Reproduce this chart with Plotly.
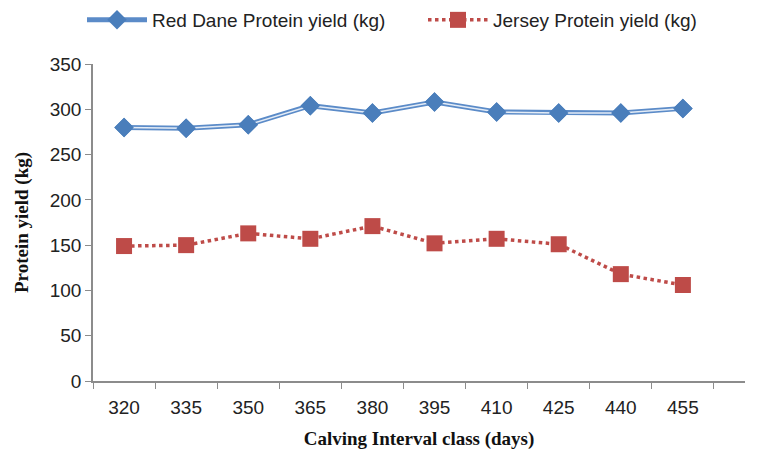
import plotly.graph_objects as go

categories = ["320", "335", "350", "365", "380", "395", "410", "425", "440", "455"]
red_dane = [280, 279, 283, 304, 296, 308, 297, 296, 296, 301]
jersey = [149, 150, 163, 157, 171, 152, 157, 151, 118, 106]
y_ticks = [0, 50, 100, 150, 200, 250, 300, 350]

fig = go.Figure()
# Red Dane: double line (blue outer, light inner) with diamond markers
fig.add_trace(go.Scatter(
    x=categories, y=red_dane, mode="lines+markers",
    name="Red Dane Protein yield (kg)", legend="legend",
    line=dict(color="#5B8BC8", width=5),
    marker=dict(symbol="diamond", size=15, color="#4A7EBB"),
))
fig.add_trace(go.Scatter(
    x=categories, y=red_dane, mode="lines",
    showlegend=False, hoverinfo="skip",
    line=dict(color="#E4ECF6", width=1.5),
))
fig.add_trace(go.Scatter(
    x=categories, y=red_dane, mode="markers",
    showlegend=False, hoverinfo="skip",
    marker=dict(symbol="diamond", size=15, color="#4A7EBB"),
))
fig.add_trace(go.Scatter(
    x=categories, y=jersey, mode="lines+markers",
    name="Jersey Protein yield (kg)", legend="legend2",
    line=dict(color="#BE4B48", width=3.5, dash="dot"),
    marker=dict(symbol="square", size=16, color="#BE4B48"),
))

axis_color = "#8C8C8C"
legend_font = dict(family="Liberation Sans", size=19, color="#222222")
fig.update_layout(
    width=758, height=451,
    margin=dict(l=93, r=13, t=64, b=70),
    paper_bgcolor="white", plot_bgcolor="white",
    font=dict(family="Liberation Sans", size=19, color="#222222"),
    legend=dict(
        orientation="h", xref="container", yref="container",
        x=82 / 758, xanchor="left", y=1 - 1 / 451, yanchor="top",
        font=legend_font, itemwidth=60,
    ),
    legend2=dict(
        orientation="h", xref="container", yref="container",
        x=423 / 758, xanchor="left", y=1 - 1 / 451, yanchor="top",
        font=legend_font, itemwidth=60,
    ),
    xaxis=dict(
        type="category", categoryorder="array", categoryarray=categories,
        range=[-0.5, 10.0], showgrid=False, showline=True, automargin=False,
        linecolor=axis_color, linewidth=1.5,
        ticks="outside", tickson="boundaries", ticklen=6, tickcolor=axis_color,
        tickfont=dict(size=19, color="#222222"), ticklabelstandoff=8,
        title=dict(text="<b>Calving Interval class (days)</b>",
                   font=dict(family="Liberation Serif", size=19, color="#111111"),
                   standoff=15),
    ),
    yaxis=dict(
        range=[0, 350], tickvals=y_ticks, showgrid=False, zeroline=False,
        showline=True, linecolor=axis_color, linewidth=1.5, automargin=False,
        ticks="outside", ticklen=6, tickcolor=axis_color,
        tickfont=dict(size=19, color="#222222"),
        title=dict(text="<b>Protein yield (kg)</b>",
                   font=dict(family="Liberation Serif", size=19, color="#111111"),
                   standoff=16),
    ),
)

fig.write_html("out.html", config={"displayModeBar": False},
               post_script="document.body.style.margin='0';")
